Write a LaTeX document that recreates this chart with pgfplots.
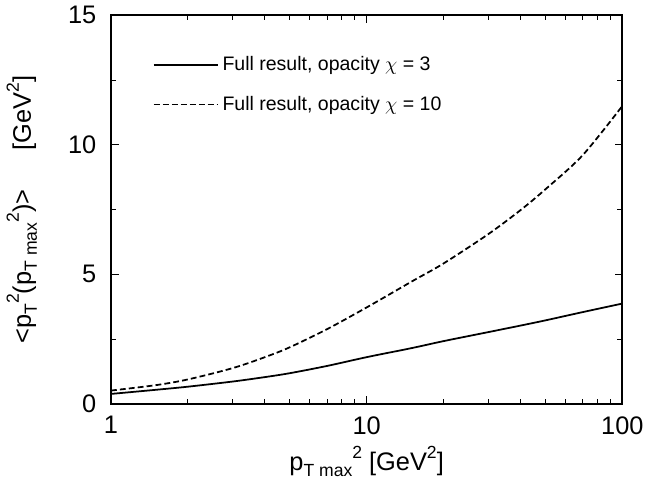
\documentclass[border=0pt]{standalone}
\usepackage{fontspec}
\setmainfont{Liberation Sans}
\usepackage{pgfplots}
\pgfplotsset{compat=1.18}
\newcommand{\sub}[1]{\raisebox{-0.45ex}{\fontsize{9}{10}\selectfont #1}}
\newcommand{\sups}[1]{\raisebox{0.9ex}{\fontsize{9}{10}\selectfont #1}}
\begin{document}
\begin{tikzpicture}
\begin{axis}[
  xmode=log,
  width=262pt, height=199pt, scale only axis,
  xmin=1, xmax=100, ymin=0, ymax=15,
  ytick={0,5,10,15},
  minor ytick={2.5,7.5,12.5},
  xtick={1,10,100},
  xticklabels={1,10,100},
  tick align=inside,
  major tick length=4pt, minor tick length=2.5pt,
  every tick/.style={black, line width=0.5pt},
  axis line style={line width=0.9pt},
  tick label style={font=\fontsize{13}{15}\selectfont},
  xticklabel style={yshift=-3pt},
  yticklabel style={xshift=-4pt},
  /pgf/number format/assume math mode=true,
  xlabel={p\sub{T max}\sups{2} [GeV\sups{2}]},
  ylabel={<p\sub{T}\sups{2}(p\sub{T max}\sups{2})>\quad\ \ [GeV\sups{2}]},
  label style={font=\fontsize{13}{15}\selectfont},
  xlabel style={yshift=1pt},
  ylabel style={yshift=9pt},
  legend style={at={(0.07,0.915)}, anchor=north west, draw=none, fill=none,
    font=\fontsize{10}{12}\selectfont, row sep=7.5pt},
  legend cell align=left,
  legend image code/.code={\path (0,0) -- (1.15cm,0); \draw[#1] (0cm,0cm) -- (0.93cm,0cm);},
]
\addplot[black, line width=0.9pt, smooth] coordinates {
(1,0.38) (1.5,0.54) (2,0.66) (3,0.86) (4,1.03) (5,1.18) (7,1.46) (10,1.8)
(15,2.15) (20,2.42) (30,2.77) (40,3.02) (50,3.22) (70,3.54) (100,3.87)};
\addlegendentry{Full result, opacity $\chi$ = 3}
\addplot[black, line width=0.9pt, dash pattern=on 3pt off 1.6pt, smooth] coordinates {
(1,0.51) (1.5,0.72) (2,0.94) (3,1.38) (4,1.8) (5,2.18) (7,2.88) (10,3.72)
(15,4.72) (20,5.42) (30,6.56) (40,7.48) (50,8.28) (70,9.6) (100,11.5)};
\addlegendentry{Full result, opacity $\chi$ = 10}
\end{axis}
\end{tikzpicture}
\end{document}
